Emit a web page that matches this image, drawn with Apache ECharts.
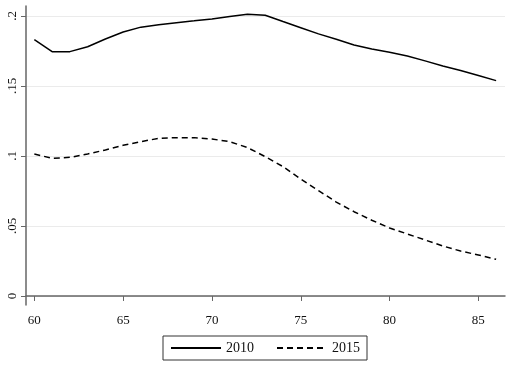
<!DOCTYPE html>
<html>
<head>
<meta charset="utf-8">
<script src="https://cdn.jsdelivr.net/npm/echarts@6/dist/echarts.min.js"></script>
<style>
  html, body { margin: 0; padding: 0; background: #fff; }
  #chart { width: 510px; height: 366px; }
</style>
</head>
<body>
<div id="chart"></div>
<script>
// ages on the x axis
const ages = [60, 61, 62, 63, 64, 65, 66, 67, 68, 69, 70, 71, 72, 73,
  74, 75, 76, 77, 78, 79, 80, 81, 82, 83, 84, 85, 86]
// 2010 curve
const y2010 = [0.183, 0.1745, 0.1745, 0.178, 0.1835, 0.1885, 0.192, 0.1937, 0.1952, 0.1965,
  0.1979, 0.1996, 0.2012, 0.2005, 0.196, 0.1916, 0.1872, 0.1833, 0.1793, 0.1764,
  0.174, 0.1714, 0.1679, 0.1643, 0.161, 0.1574, 0.1538]
// 2015 curve
const y2015 = [0.1014, 0.0983, 0.099, 0.1014, 0.1043, 0.1076, 0.1102, 0.1126, 0.1131, 0.1131,
  0.1121, 0.1102, 0.106, 0.0995, 0.0924, 0.0835, 0.0752, 0.0671, 0.0602, 0.0541,
  0.0486, 0.0443, 0.04, 0.0357, 0.0321, 0.0293, 0.0262]
const xTicks = [60, 65, 70, 75, 80, 85]
const yTicks = [0, 0.05, 0.1, 0.15, 0.2]
const yLabels = { 0: '0', 0.05: '.05', 0.1: '.1', 0.15: '.15', 0.2: '.2' }

const font = 'Liberation Serif'
const chart = echarts.init(document.getElementById('chart'))

const toPairs = (vals) => ages.map((a, i) => [a, vals[i]])

chart.setOption({
  animation: false,
  backgroundColor: '#fff',
  grid: { left: 26, right: 5, top: 6, bottom: 61, containLabel: false },
  legend: {
    left: 163,
    top: 336,
    padding: [5, 7, 5, 7],
    itemWidth: 50,
    itemHeight: 14,
    itemGap: 22,
    borderColor: '#333',
    borderWidth: 1,
    borderRadius: 0,
    itemStyle: { opacity: 0 },
    textStyle: { fontFamily: font, fontSize: 14, color: '#111' },
    data: ['2010', '2015']
  },
  xAxis: {
    type: 'value',
    min: 59.53,
    max: 86.5,
    axisLine: { show: true, lineStyle: { color: '#666', width: 1.5 } },
    axisTick: { show: true, length: 5, customValues: xTicks, lineStyle: { color: '#666' } },
    axisLabel: {
      customValues: xTicks,
      margin: 9,
      fontFamily: font, fontSize: 13, color: '#111'
    },
    splitLine: { show: false }
  },
  yAxis: {
    type: 'value',
    min: -0.00643,
    max: 0.2071,
    axisLine: { show: true, lineStyle: { color: '#666', width: 1.5 } },
    axisTick: { show: true, length: 5, customValues: yTicks, lineStyle: { color: '#666' } },
    axisLabel: {
      customValues: yTicks,
      rotate: 90,
      margin: 7,
      fontFamily: font, fontSize: 13, color: '#111',
      formatter: (v) => yLabels[v] !== undefined ? yLabels[v] : ''
    },
    splitLine: { show: true, lineStyle: { color: '#ebebeb', width: 1 } }
  },
  series: [
    {
      name: '2010',
      type: 'line',
      data: toPairs(y2010),
      symbol: 'none',
      lineStyle: { color: '#000', width: 1.5, type: 'solid' },
      itemStyle: { color: '#000' }
    },
    {
      name: '2015',
      type: 'line',
      data: toPairs(y2015),
      symbol: 'none',
      lineStyle: { color: '#000', width: 1.5, type: [6, 4] },
      itemStyle: { color: '#000' }
    }
  ]
})
</script>
</body>
</html>
